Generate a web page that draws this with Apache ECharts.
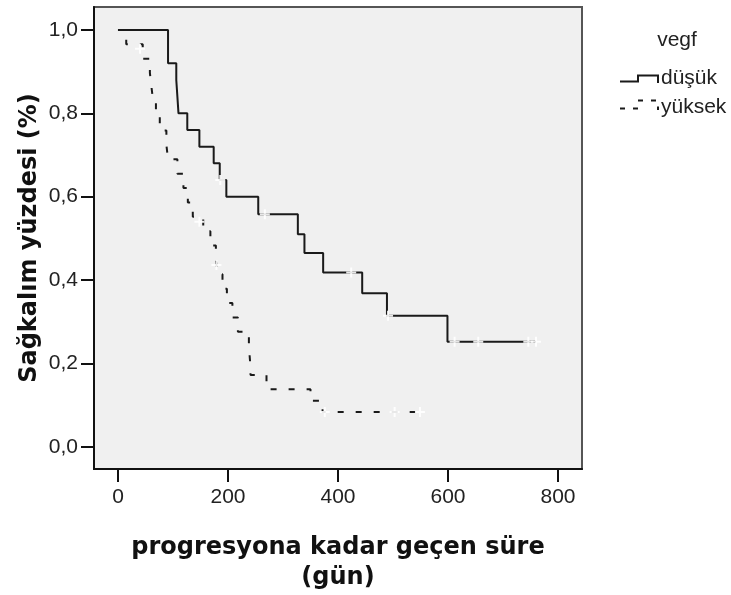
<!DOCTYPE html>
<html>
<head>
<meta charset="utf-8">
<script src="https://cdn.jsdelivr.net/npm/echarts@6/dist/echarts.min.js"></script>
<style>html,body{margin:0;padding:0;background:#fff;}#c{width:731px;height:595px;}</style>
</head>
<body>
<div id="c"></div>
<script>
// Kaplan-Meier steps [day, survival]
var dusukSteps = [[0,1.0],[91,0.92],[106,0.88],[108,0.84],[110,0.80],[126,0.76],[148,0.72],[174,0.68],[185,0.64],[197,0.60],[255,0.558],[327,0.51],[339,0.465],[373,0.418],[444,0.368],[489,0.314],[599,0.252],[760,0.252]];
var dusukCensor = [[186,0.64],[267,0.558],[424,0.418],[491,0.314],[612,0.252],[655,0.252],[746,0.252],[760,0.252]];
var yuksekSteps = [[0,1.0],[15,0.966],[45,0.931],[58,0.897],[61,0.862],[64,0.828],[69,0.793],[76,0.759],[88,0.724],[91,0.69],[108,0.655],[119,0.621],[127,0.586],[136,0.552],[155,0.517],[168,0.483],[178,0.448],[181,0.414],[190,0.379],[198,0.345],[208,0.31],[218,0.276],[238,0.241],[240,0.207],[241,0.172],[270,0.138],[350,0.11],[372,0.083],[552,0.083]];
var yuksekCensor = [[40,0.955],[148,0.54],[179,0.436],[376,0.083],[503,0.083],[549,0.083]];
var xTicks = [0,200,400,600,800];
var yTicks = [0,0.2,0.4,0.6,0.8,1.0];
var seriesNames = ['düşük','yüksek'];
var legendTitle = 'vegf';
var xTitle = 'progresyona kadar geçen süre\n(gün)';
var yTitle = 'Sağkalım yüzdesi (%)';

var chart = echarts.init(document.getElementById('c'), null, {renderer:'canvas'});
var plus = 'path://M4,0h2v4h4v2h-4v4h-2v-4h-4v-2h4z';
var lineColor = '#1a1a1a';
var fontTick = {fontFamily:'"Liberation Sans", Arial, sans-serif', fontSize:21, color:'#222'};
chart.setOption({
  animation:false,
  grid:{left:94, top:7, width:488, height:462, show:true, backgroundColor:'#f0f0f0', borderColor:'#555', borderWidth:2},
  xAxis:{type:'value', min:-43.6, max:843.6,
    axisLine:{show:true, onZero:false, lineStyle:{color:'#111', width:2}},
    axisTick:{show:true, customValues:xTicks, length:13, lineStyle:{color:'#111', width:2}},
    axisLabel:Object.assign({customValues:xTicks, margin:18}, fontTick),
    splitLine:{show:false}},
  yAxis:{type:'value', min:-0.0535, max:1.0552,
    axisLine:{show:true, onZero:false, lineStyle:{color:'#111', width:2}},
    axisTick:{show:true, customValues:yTicks, length:13, lineStyle:{color:'#111', width:2}},
    axisLabel:Object.assign({customValues:yTicks, margin:16, formatter:function(v){return v.toFixed(1).replace('.',',');}}, fontTick),
    splitLine:{show:false}},
  series:[
    {name:seriesNames[0], type:'line', step:'end', data:dusukSteps, showSymbol:false, symbol:'none',
     lineStyle:{color:lineColor, width:2}, z:2},
    {name:seriesNames[1], type:'line', step:'end', data:yuksekSteps, showSymbol:false, symbol:'none',
     lineStyle:{color:lineColor, width:2, type:[6,12]}, z:2},
    {type:'scatter', data:dusukCensor, symbol:plus, symbolSize:10, itemStyle:{color:'#ffffff', opacity:0.9}, z:3, silent:true},
    {type:'scatter', data:yuksekCensor, symbol:plus, symbolSize:10, itemStyle:{color:'#ffffff', opacity:0.9}, z:3, silent:true}
  ],
  graphic:[
    {type:'text', left:null, x:338, y:533, style:{text:xTitle, align:'center', verticalAlign:'top', font:'bold 24px "DejaVu Sans", Verdana, sans-serif', lineHeight:30, fill:'#111'}},
    {type:'text', x:30, y:238, rotation:Math.PI/2, style:{text:yTitle, align:'center', verticalAlign:'middle', font:'bold 24px "DejaVu Sans", Verdana, sans-serif', fill:'#111'}},
    {type:'text', x:677, y:40, style:{text:legendTitle, align:'center', verticalAlign:'middle', font:'21px "Liberation Sans", Arial, sans-serif', fill:'#222'}},
    {type:'polyline', shape:{points:[[620,81.5],[638,81.5],[638,75.5],[658,75.5],[658,83]]}, style:{stroke:lineColor, lineWidth:2, fill:null}},
    {type:'text', x:661, y:78, style:{text:seriesNames[0], align:'left', verticalAlign:'middle', font:'21px "Liberation Sans", Arial, sans-serif', fill:'#222'}},
    {type:'polyline', shape:{points:[[620,108.5],[638,108.5],[638,100.5],[658,100.5],[658,110]]}, style:{stroke:lineColor, lineWidth:2, fill:null, lineDash:[5,8]}},
    {type:'text', x:661, y:107, style:{text:seriesNames[1], align:'left', verticalAlign:'middle', font:'21px "Liberation Sans", Arial, sans-serif', fill:'#222'}}
  ]
});
</script>
</body>
</html>
